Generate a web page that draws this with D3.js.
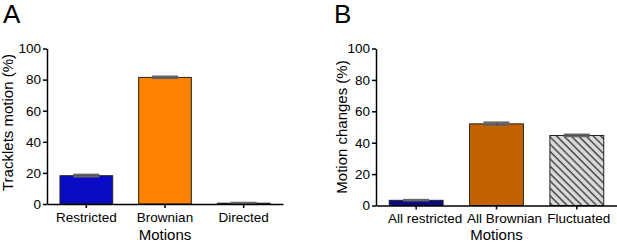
<!DOCTYPE html>
<html>
<head>
  <meta charset="utf-8">
  <title>Motions</title>
  <style>
    body { margin: 0; background: #fff; }
    svg { display: block; font-family: "Liberation Sans", Arial, sans-serif; }
    .axis path, .axis line { stroke: #000; stroke-width: 1.5; }
    .axis text { font-size: 13.5px; fill: #000; }
  </style>
</head>
<body>
  <script src="https://cdn.jsdelivr.net/npm/d3@7"></script>
  <script>
    // panel A
    var catsA = ['Restricted', 'Brownian', 'Directed'];
    var valsA = [18.2, 81.4, 0.5];
    var errA = [0.7, 0.6, 0.3];
    var colA = ['#0b0bc6', '#ff8200', '#ffffff'];
    // panel B
    var catsB = ['All restricted', 'All Brownian', 'Fluctuated'];
    var valsB = [3.3, 52.0, 44.6];
    var errB = [0.3, 0.9, 0.6];
    var colB = ['#0a0a88', '#c46200', 'url(#hatch)'];
    var yTicks = [0, 20, 40, 60, 80, 100];

    var svg = d3.select('body').append('svg')
      .attr('width', 617).attr('height', 245);

    // diagonal hatch for "Fluctuated"
    var pat = svg.append('defs').append('pattern')
      .attr('id', 'hatch')
      .attr('patternUnits', 'userSpaceOnUse')
      .attr('width', 5.2).attr('height', 10)
      .attr('patternTransform', 'rotate(-45)');
    pat.append('rect').attr('width', 5.2).attr('height', 10).attr('fill', '#d9d9d9');
    pat.append('line').attr('x1', 1).attr('x2', 1).attr('y1', 0).attr('y2', 10)
      .attr('stroke', '#333').attr('stroke-width', 1.3);

    function panel(o) {
      var g = svg.append('g');
      var y = d3.scaleLinear().domain([0, 100]).range([o.y0, o.y1]);
      var x = d3.scaleBand().domain(o.cats).range([o.x0, o.x1])
        .paddingInner(0.33).paddingOuter(0.165);

      g.append('text').text(o.letter)
        .attr('x', o.lx).attr('y', 23)
        .style('font-size', '26px');

      g.selectAll('rect.bar').data(o.vals).enter().append('rect')
        .attr('class', 'bar')
        .attr('x', (d, i) => x(o.cats[i]))
        .attr('y', d => y(d))
        .attr('width', x.bandwidth())
        .attr('height', d => y(0) - y(d))
        .attr('fill', (d, i) => o.cols[i])
        .attr('stroke', '#222').attr('stroke-width', 1);

      // error bars
      var eb = g.selectAll('g.err').data(o.vals).enter().append('g')
        .attr('class', 'err')
        .attr('transform', (d, i) => `translate(${x(o.cats[i]) + x.bandwidth() / 2},0)`);
      eb.append('line')
        .attr('y1', (d, i) => y(d + o.errs[i])).attr('y2', (d, i) => y(Math.max(0, d - o.errs[i])))
        .attr('stroke', '#333').attr('stroke-width', 1.5);
      eb.append('line')
        .attr('x1', -13).attr('x2', 13)
        .attr('y1', (d, i) => y(d + o.errs[i])).attr('y2', (d, i) => y(d + o.errs[i]))
        .attr('stroke', '#666').attr('stroke-width', 2);
      eb.append('line')
        .attr('x1', -13).attr('x2', 13)
        .attr('y1', (d, i) => y(Math.max(0, d - o.errs[i]))).attr('y2', (d, i) => y(Math.max(0, d - o.errs[i])))
        .attr('stroke', '#666').attr('stroke-width', 1.5);

      g.append('g').attr('class', 'axis')
        .attr('transform', `translate(${o.x0},0)`)
        .call(d3.axisLeft(y).tickValues(yTicks).tickSize(4).tickSizeOuter(0).tickPadding(2));

      g.append('g').attr('class', 'axis')
        .attr('transform', `translate(0,${o.y0})`)
        .call(d3.axisBottom(x).tickSize(4).tickSizeOuter(0).tickPadding(4))
        .selectAll('.tick text')
        .attr('dx', (d, i) => o.ldx[i]);

      g.append('text').text('Motions')
        .attr('x', (o.x0 + o.x1) / 2).attr('y', 240)
        .attr('text-anchor', 'middle').style('font-size', '15px');

      g.append('text').text(o.ylabel)
        .attr('transform', `translate(${o.ylx},${o.yly}) rotate(-90)`)
        .attr('text-anchor', 'middle').style('font-size', '15px');
    }

    panel({ letter: 'A', lx: 3, cats: catsA, vals: valsA, errs: errA, cols: colA, ldx: [0, 0, 0],
      x0: 47, x1: 283, y0: 204, y1: 48.5, ylx: 13, yly: 122.5, ylabel: 'Tracklets motion (%)' });
    panel({ letter: 'B', lx: 334, cats: catsB, vals: valsB, errs: errB, cols: colB, ldx: [9, 8, 2],
      x0: 376, x1: 617, y0: 205.5, y1: 48.5, ylx: 347, yly: 127, ylabel: 'Motion changes (%)' });
  </script>
</body>
</html>
